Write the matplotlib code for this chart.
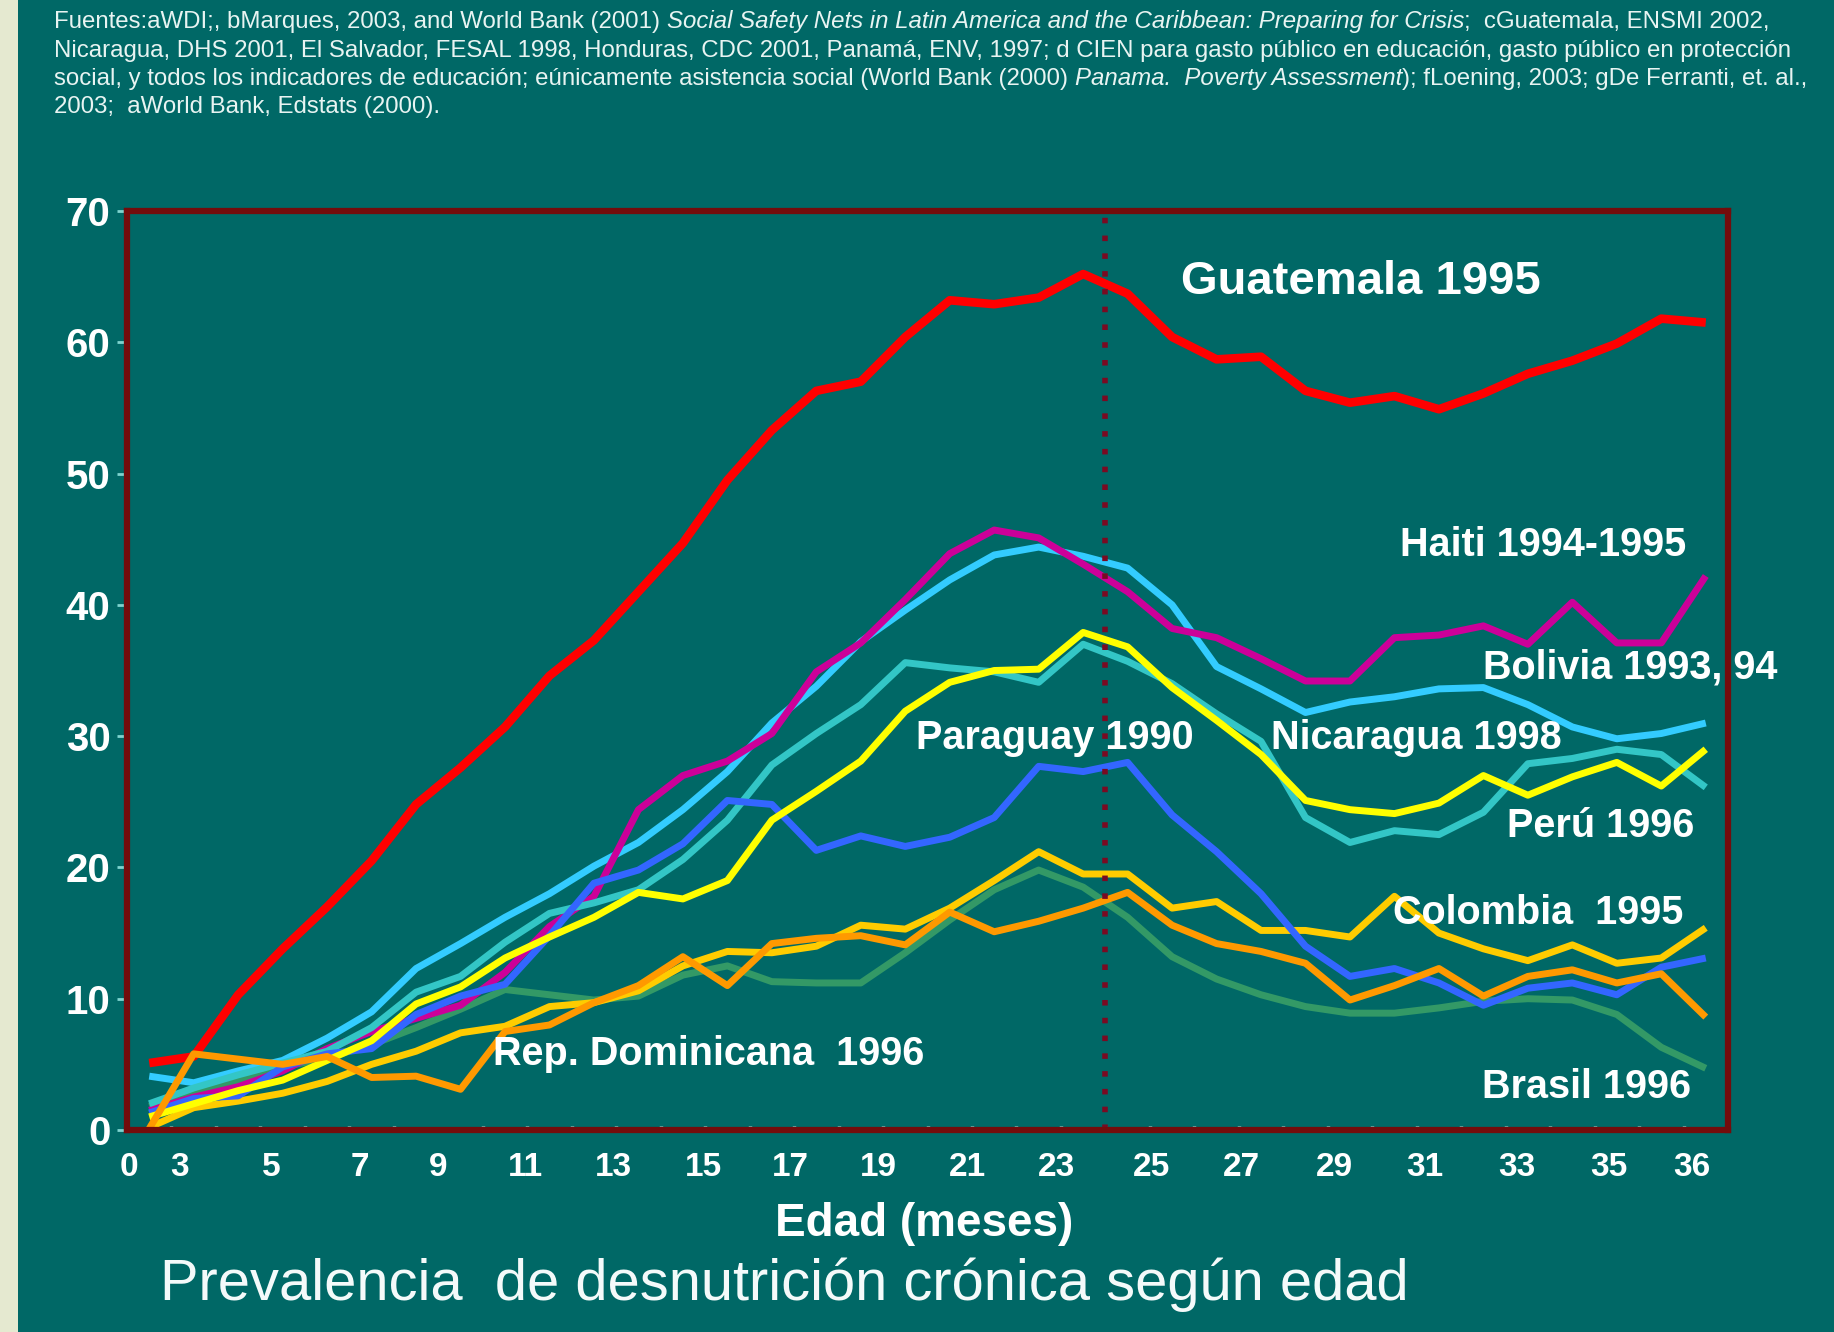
import matplotlib
matplotlib.use('Agg')
import matplotlib.pyplot as plt
from matplotlib.patches import Rectangle

plt.rcParams['font.family'] = ['Liberation Sans', 'DejaVu Sans']

# ---------------- data ----------------
ages = list(range(36))  # category index of each age group

guatemala = [5.1, 5.6, 10.3, 13.8, 17.0, 20.5, 24.8, 27.6, 30.7, 34.6, 37.3, 41.0,
             44.7, 49.5, 53.3, 56.3, 57.0, 60.4, 63.2, 62.9, 63.4, 65.2, 63.7, 60.4,
             58.7, 58.9, 56.3, 55.4, 55.9, 54.9, 56.1, 57.6, 58.6, 59.9, 61.8, 61.5]
haiti = [1.5, 2.5, 3.3, 4.5, 6.2, 7.5, 8.5, 9.5, 12.0, 15.5, 17.8, 24.4,
         27.0, 28.1, 30.2, 34.9, 37.1, 40.4, 43.9, 45.7, 45.1, 43.1, 41.0, 38.2,
         37.5, 35.9, 34.2, 34.2, 37.5, 37.7, 38.4, 37.0, 40.2, 37.1, 37.1, 42.2]
bolivia = [4.1, 3.6, 4.5, 5.3, 7.0, 9.0, 12.3, 14.2, 16.2, 18.0, 20.1, 21.9,
           24.4, 27.3, 31.0, 33.8, 37.2, 39.6, 41.9, 43.8, 44.4, 43.7, 42.8, 40.0,
           35.3, 33.6, 31.8, 32.6, 33.0, 33.6, 33.7, 32.4, 30.7, 29.8, 30.2, 31.0]
nicaragua = [2.0, 3.2, 4.2, 5.1, 6.0, 7.8, 10.5, 11.7, 14.3, 16.5, 17.3, 18.3,
             20.6, 23.6, 27.8, 30.2, 32.4, 35.6, 35.2, 34.9, 34.1, 37.0, 35.7, 34.0,
             31.7, 29.6, 23.8, 21.9, 22.8, 22.5, 24.2, 27.9, 28.3, 29.0, 28.6, 26.1]
peru = [1.0, 2.0, 3.0, 3.8, 5.3, 6.8, 9.6, 10.9, 13.1, 14.7, 16.2, 18.1,
        17.6, 19.0, 23.6, 25.8, 28.1, 31.9, 34.1, 35.0, 35.1, 37.9, 36.8, 33.7,
        31.2, 28.6, 25.1, 24.4, 24.1, 24.9, 27.0, 25.5, 26.9, 28.0, 26.2, 29.0]
paraguay = [1.3, 2.4, 2.6, 4.8, 5.8, 6.2, 8.8, 10.2, 11.1, 14.8, 18.8, 19.8,
            21.8, 25.1, 24.8, 21.3, 22.4, 21.6, 22.3, 23.8, 27.7, 27.3, 28.0, 24.0,
            21.2, 18.0, 14.0, 11.7, 12.3, 11.2, 9.5, 10.8, 11.2, 10.3, 12.4, 13.1]
colombia = [0.2, 1.7, 2.2, 2.8, 3.7, 5.0, 6.0, 7.4, 7.9, 9.4, 9.7, 10.6,
            12.5, 13.6, 13.5, 14.0, 15.6, 15.3, 16.9, 19.0, 21.2, 19.5, 19.5, 16.9,
            17.4, 15.2, 15.2, 14.7, 17.8, 15.0, 13.8, 12.9, 14.1, 12.7, 13.1, 15.4]
repdom = [0.1, 5.8, 5.4, 5.0, 5.6, 4.0, 4.1, 3.1, 7.5, 8.0, 9.7, 11.0,
          13.2, 11.0, 14.2, 14.6, 14.8, 14.1, 16.6, 15.1, 15.9, 16.9, 18.1, 15.6,
          14.2, 13.6, 12.7, 9.9, 11.0, 12.3, 10.2, 11.7, 12.2, 11.2, 11.9, 8.6]
brasil = [1.8, 2.8, 3.8, 4.8, 5.5, 6.5, 7.8, 9.2, 10.7, 10.3, 9.9, 10.2,
          11.8, 12.5, 11.3, 11.2, 11.2, 13.5, 16.0, 18.3, 19.8, 18.5, 16.2, 13.2,
          11.5, 10.3, 9.4, 8.9, 8.9, 9.3, 9.8, 10.0, 9.9, 8.8, 6.3, 4.7]

series_names = ['Bolivia 1993, 94', 'Brasil 1996', 'Colombia  1995', 'Guatemala 1995',
                'Haiti 1994-1995', 'Nicaragua 1998', 'Paraguay 1990', 'Perú 1996',
                'Rep. Dominicana  1996']
series_values = [bolivia, brasil, colombia, guatemala, haiti, nicaragua, paraguay, peru, repdom]

x_tick_labels = ['0', '3', '5', '7', '9', '11', '13', '15', '17', '19', '21', '23',
                 '25', '27', '29', '31', '33', '35', '36']
y_ticks = [0, 10, 20, 30, 40, 50, 60, 70]

source_lines = [
    [("Fuentes:aWDI;, bMarques, 2003, and World Bank (2001)", 'normal', True),
     ("Social Safety Nets in Latin America and the Caribbean: Preparing for Crisis", 'italic', False),
     (";  cGuatemala, ENSMI 2002,", 'normal', False)],
    [("Nicaragua, DHS 2001, El Salvador, FESAL 1998, Honduras, CDC 2001, Panamá, ENV, 1997; d CIEN para gasto público en educación, gasto público en protección", 'normal', False)],
    [("social, y todos los indicadores de educación; eúnicamente asistencia social (World Bank (2000)", 'normal', True),
     ("Panama.  Poverty Assessment", 'italic', False),
     ("); fLoening, 2003; gDe Ferranti, et. al.,", 'normal', False)],
    [("2003;  aWorld Bank, Edstats (2000).", 'normal', False)],
]
x_title = "Edad (meses)"
bottom_title = "Prevalencia  de desnutrición crónica según edad"

# ---------------- styles / layout ----------------
W, H = 1834, 1332
BG = '#006866'
colors = {'Bolivia 1993, 94': '#33ccff', 'Brasil 1996': '#339966', 'Colombia  1995': '#ffcc00',
          'Guatemala 1995': '#ff0000', 'Haiti 1994-1995': '#cc0099', 'Nicaragua 1998': '#33c6c6',
          'Paraguay 1990': '#3366ff', 'Perú 1996': '#ffff00', 'Rep. Dominicana  1996': '#ff9900'}
x_tick_pos = [-0.46, 0.67, 2.75, 4.74, 6.5, 8.46, 10.43, 12.46, 14.42, 16.4, 18.4, 20.39,
              22.53, 24.57, 26.66, 28.68, 30.76, 32.83, 34.69]
# label placement: (x, y, ha, size)
label_pos = {'Guatemala 1995': (23.2, 63.7, 'left', 34),
             'Haiti 1994-1995': (34.55, 43.7, 'right', 28.5),
             'Bolivia 1993, 94': (29.98, 34.4, 'left', 28.5),
             'Paraguay 1990': (17.25, 29.0, 'left', 28.5),
             'Nicaragua 1998': (25.23, 29.0, 'left', 28.5),
             'Perú 1996': (34.74, 22.3, 'right', 28.5),
             'Colombia  1995': (27.96, 15.7, 'left', 28.5),
             'Rep. Dominicana  1996': (7.73, 4.95, 'left', 28.5),
             'Brasil 1996': (34.66, 2.4, 'right', 28.5)}

fig = plt.figure(figsize=(W / 100, H / 100), dpi=100, facecolor=BG)
fig.patches.append(Rectangle((0, 0), 18 / W, 1, transform=fig.transFigure,
                             facecolor='#e5e9d0', edgecolor='none', zorder=0))

ax = fig.add_axes([127 / W, 202 / H, 1601 / W, 919 / H])
ax.set_facecolor(BG)

for name, vals in zip(series_names, series_values):
    lw = 6.2 if name.startswith('Guatemala') else 5.0
    ax.plot(ages, vals, color=colors[name], lw=lw, solid_joinstyle='round',
            solid_capstyle='butt', zorder=3)

ax.axvline(21.5, color='#7a0a22', lw=4.0, linestyle=(0, (1, 2.2)),
           dash_capstyle='butt', zorder=5)

ax.set_xlim(-0.5, 35.5)
ax.set_ylim(0, 70)

for s in ax.spines.values():
    s.set_color('#730c0c')
    s.set_linewidth(4.5)
    s.set_zorder(6)

ax.set_yticks(y_ticks)
ax.set_yticklabels([str(v) for v in y_ticks])
ax.tick_params(axis='y', direction='out', length=7, width=2, color='#7fd4d0',
               pad=5, labelsize=29, labelcolor='white')
ax.set_xticks(x_tick_pos)
ax.set_xticklabels(x_tick_labels)
ax.tick_params(axis='x', which='major', length=0, pad=16, labelsize=24, labelcolor='white')
ax.set_xticks([k + 0.5 for k in range(35)], minor=True)
ax.tick_params(axis='x', which='minor', direction='in', length=3, width=2.5, color='#c9e8e2')
for lab in ax.get_yticklabels() + ax.get_xticklabels():
    lab.set_fontweight('bold')

for name, (lx, ly, ha, sz) in label_pos.items():
    ax.text(lx, ly, name, ha=ha, va='baseline', fontsize=sz, fontweight='bold',
            color='white', clip_on=False, zorder=7)

fig.text(924.6 / W, 1 - 1236 / H, x_title, ha='center', va='baseline', fontsize=33,
         fontweight='bold', color='white')
fig.text(160 / W, 1 - 1300 / H, bottom_title, ha='left', va='baseline', fontsize=41.7,
         color='#f4fafa')

# ---------------- source text (mixed italic) ----------------
fig.canvas.draw()
renderer = fig.canvas.get_renderer()
probe = fig.text(0, 0, source_lines[1][0][0], fontsize=10)
w10 = probe.get_window_extent(renderer).width
probe.remove()
src_size = 10 * (1791 - 54) / w10
space_px = src_size * 100 / 72 * 0.278
baselines = [28, 57, 85, 113]
for segs, yb in zip(source_lines, baselines):
    x = 54
    for txt, style, gap in segs:
        t = fig.text(x / W, 1 - yb / H, txt, fontsize=src_size, style=style,
                     color='#e8f4f2', ha='left', va='baseline')
        x += t.get_window_extent(renderer).width + (space_px if gap else 0)

fig.savefig('out.png', dpi=100, facecolor=BG)
